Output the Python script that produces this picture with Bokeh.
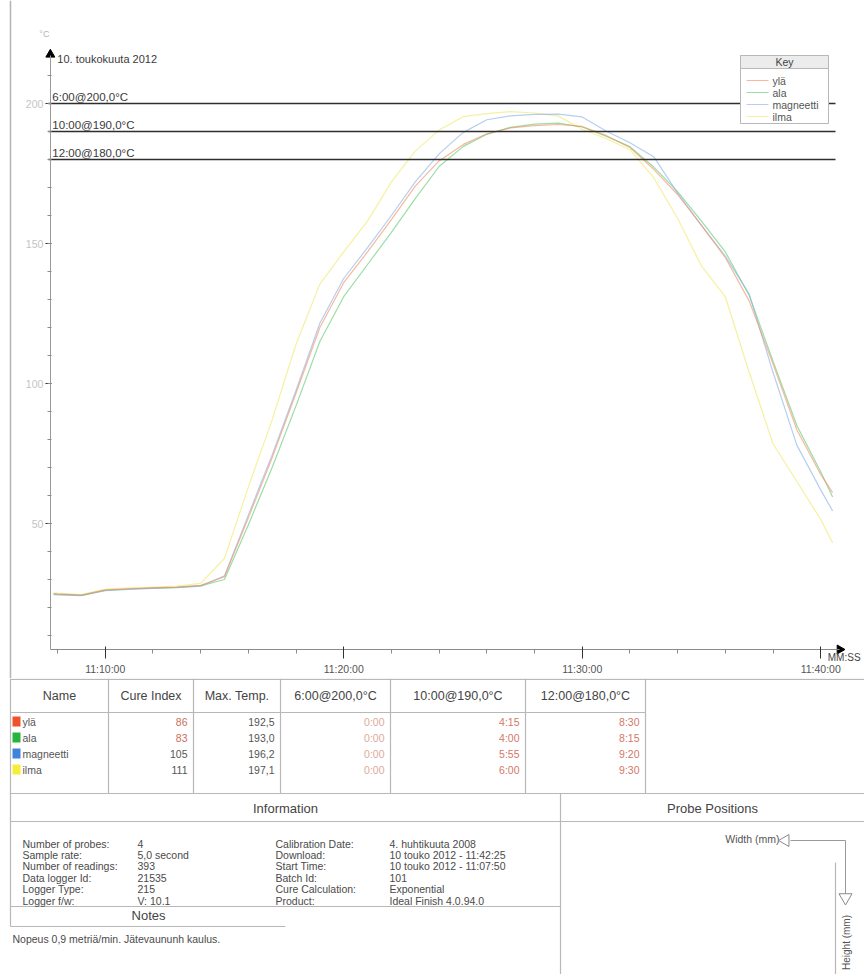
import math
import pandas as pd
from bokeh.plotting import figure
from bokeh.models import LinearAxis, DatetimeAxis, FixedTicker, DatetimeTickFormatter, Range1d
from bokeh.layouts import column
from bokeh.embed import file_html
from bokeh.resources import INLINE
from bokeh.core.properties import value

# ---------------- data ----------------
DATE = "2012-05-10"
chart_date_label = "10. toukokuuta 2012"

times = ["11:07:50", "11:08:00", "11:09:00", "11:10:00", "11:11:00", "11:12:00", "11:13:00",
         "11:14:00", "11:15:00", "11:16:00", "11:17:00", "11:18:00", "11:19:00", "11:20:00",
         "11:21:00", "11:22:00", "11:23:00", "11:24:00", "11:25:00", "11:26:00", "11:27:00",
         "11:28:00", "11:29:00", "11:30:00", "11:31:00", "11:32:00", "11:33:00", "11:34:00",
         "11:35:00", "11:36:00", "11:37:00", "11:38:00", "11:39:00", "11:40:00", "11:40:30"]

yla = [25.0, 24.9, 24.4, 26.3, 26.7, 27.0, 27.3, 27.9, 31.0, 52.0, 73.5, 96.5, 120.0, 136.0,
       147.0, 158.5, 170.5, 179.5, 185.3, 189.2, 191.3, 192.1, 192.5, 191.8, 188.6, 184.3,
       176.5, 167.5, 156.5, 145.0, 129.5, 107.0, 83.5, 67.5, 61.0]
ala = [24.8, 24.7, 24.3, 26.1, 26.6, 26.9, 27.2, 27.7, 30.0, 49.5, 70.0, 92.0, 115.0, 131.0,
       142.5, 154.0, 166.0, 177.5, 184.6, 189.0, 191.5, 192.6, 193.0, 191.6, 188.3, 184.6,
       177.3, 168.5, 158.0, 147.0, 131.5, 108.0, 85.0, 68.5, 59.5]
magneetti = [24.6, 24.5, 24.2, 26.0, 26.5, 26.8, 27.1, 27.6, 31.3, 53.0, 74.5, 97.5, 121.5, 137.5,
             148.5, 160.0, 172.0, 182.0, 189.6, 194.2, 195.6, 196.1, 196.2, 195.2, 190.2, 186.0,
             181.0, 168.0, 156.5, 145.5, 132.0, 104.0, 78.0, 62.0, 54.5]
ilma = [25.2, 25.1, 24.6, 26.6, 27.0, 27.3, 27.6, 28.6, 37.5, 63.0, 87.0, 114.0, 135.5, 147.0,
        158.0, 172.0, 183.0, 190.5, 195.3, 196.4, 197.1, 196.6, 195.5, 190.8, 187.5, 183.5,
        173.5, 159.0, 142.0, 131.0, 104.0, 78.5, 65.0, 51.5, 43.0]

probe_names = ["ylä", "ala", "magneetti", "ilma"]
probe_colors = ["#f0522e", "#27b43c", "#3f84dc", "#f4ee3a"]
line_colors = ["#f08a5c", "#58c76a", "#86aee8", "#eee860"]

threshold_times = ["6:00", "10:00", "12:00"]
threshold_temps = [200.0, 190.0, 180.0]

cure_index = [86, 83, 105, 111]
max_temp = [192.5, 193.0, 196.2, 197.1]
time_above_200 = ["0:00", "0:00", "0:00", "0:00"]
time_above_190 = ["4:15", "4:00", "5:55", "6:00"]
time_above_180 = ["8:30", "8:15", "9:20", "9:30"]

y_major_ticks = [50, 100, 150, 200]
x_tick_labels = ["11:10:00", "11:20:00", "11:30:00", "11:40:00"]
x_minor_labels = ["11:08:00", "11:12:00", "11:14:00", "11:16:00", "11:18:00", "11:22:00",
                  "11:24:00", "11:26:00", "11:28:00", "11:32:00", "11:34:00", "11:36:00",
                  "11:38:00"]

info_left_labels = ["Number of probes:", "Sample rate:", "Number of readings:",
                    "Data logger Id:", "Logger Type:", "Logger f/w:"]
info_left_values = ["4", "5,0 second", "393", "21535", "215", "V: 10.1"]
info_right_labels = ["Calibration Date:", "Download:", "Start Time:", "Batch Id:",
                     "Cure Calculation:", "Product:"]
info_right_values = ["4. huhtikuuta 2008", "10 touko 2012 - 11:42:25", "10 touko 2012 - 11:07:50",
                     "101", "Exponential", "Ideal Finish 4.0.94.0"]
notes_text = "Nopeus 0,9 metriä/min. Jätevaununh kaulus."

# ---------------- helpers ----------------
FONT = value("Liberation Sans")
W = 864
H_TOP = 678
H_BOT = 296


def ms(hms):
    return pd.Timestamp(f"{DATE} {hms}").value / 1e6


T1110 = ms("11:10:00")
PX_MIN = 23.85
PX_DEG = 2.8


def sx(X):  # page X -> chart data x
    return T1110 + (X - 104.7) / PX_MIN * 60000.0


def sy(Y):  # page Y -> chart data y
    return (663.0 - Y) / PX_DEG


def fmt_temp(t):
    return f"{t:.1f}".replace(".", ",")


# ---------------- chart ----------------
p = figure(width=W, height=H_TOP, x_range=Range1d(sx(0), sx(W)), y_range=Range1d(sy(H_TOP), sy(0)),
           x_axis_type=None, y_axis_type=None, toolbar_location=None, output_backend="svg",
           min_border=0, min_border_left=0, min_border_right=0, min_border_top=0, min_border_bottom=0)
p.outline_line_color = None
p.background_fill_color = "white"
p.border_fill_color = "white"

AX_X0 = ms("11:07:42")
AX_X1 = ms("11:40:48")
AX_Y0 = 5
AX_Y1 = 217

yaxis = LinearAxis(fixed_location=AX_X0, bounds=(AX_Y0, AX_Y1),
                   ticker=FixedTicker(ticks=y_major_ticks, minor_ticks=list(range(10, 211, 10))))
yaxis.axis_line_color = "#9a9a9a"
yaxis.major_tick_line_color = "#333333"
yaxis.major_tick_out = 5
yaxis.major_tick_in = 1
yaxis.minor_tick_line_color = "#8a8a8a"
yaxis.minor_tick_out = 3
yaxis.minor_tick_in = 1
yaxis.major_label_text_color = "#c4c4c4"
yaxis.major_label_text_font = "Liberation Sans"
yaxis.major_label_text_font_size = "10.5px"
yaxis.major_label_standoff = 2
p.add_layout(yaxis, "left")

xaxis = DatetimeAxis(fixed_location=AX_Y0, bounds=(AX_X0, AX_X1),
                     ticker=FixedTicker(ticks=[ms(t) for t in x_tick_labels],
                                        minor_ticks=[ms(t) for t in x_minor_labels]),
                     formatter=DatetimeTickFormatter(seconds="%H:%M:%S", minsec="%H:%M:%S",
                                                     minutes="%H:%M:%S", hourmin="%H:%M:%S",
                                                     hours="%H:%M:%S"))
xaxis.axis_line_color = "#8a8a8a"
xaxis.major_tick_line_color = "#333333"
xaxis.major_tick_out = 9
xaxis.major_tick_in = 3
xaxis.minor_tick_line_color = "#8a8a8a"
xaxis.minor_tick_out = 4
xaxis.minor_tick_in = 0
xaxis.major_label_text_color = "#555555"
xaxis.major_label_text_font = "Liberation Sans"
xaxis.major_label_text_font_size = "10.5px"
xaxis.major_label_standoff = 4
p.add_layout(xaxis, "below")

# page border of chart panel
p.segment(x0=[sx(10)], y0=[sy(0)], x1=[sx(10)], y1=[sy(H_TOP)], line_color="#b4b4b4", line_width=1.5)

# arrows on axes
p.scatter(x=[AX_X0], y=[AX_Y1 + 0.5], marker="triangle", size=9, fill_color="black", line_color="black")
p.scatter(x=[AX_X1], y=[AX_Y0], marker="triangle", size=9, angle=-math.pi / 2,
          fill_color="black", line_color="black")

# series
xs = [ms(t) for t in times]
series = [yla, ala, magneetti, ilma]
for idx in [3, 1, 2, 0]:
    p.line(x=xs, y=series[idx], line_color=line_colors[idx], line_width=1.2, line_alpha=0.6)

# threshold lines
line_x0 = AX_X0 - 5000
line_x1 = sx(835)
p.segment(x0=[line_x0] * 3, y0=threshold_temps, x1=[line_x1] * 3, y1=threshold_temps,
          line_color="#2e2e2e", line_width=1.6)
threshold_labels = [f"{tm}@{fmt_temp(tp)}°C" for tm, tp in zip(threshold_times, threshold_temps)]
p.text(x=[AX_X0] * 3, y=threshold_temps, text=threshold_labels, x_offset=2, y_offset=-1,
       text_baseline="bottom", text_align="left", text_font=FONT, text_font_size="11.5px",
       text_color="#3a3a3a")

# labels
p.text(x=[AX_X0], y=[sy(58)], text=[chart_date_label], x_offset=7, text_baseline="middle",
       text_font=FONT, text_font_size="11px", text_color="#3a3a3a")
p.text(x=[AX_X0], y=[sy(33)], text=["°C"], x_offset=-6, text_align="center", text_baseline="middle",
       text_font=FONT, text_font_size="9px", text_color="#b5b5b5")
p.text(x=[AX_X1], y=[AX_Y0], text=["MM:SS"], x_offset=-12, y_offset=8, text_align="left",
       text_baseline="middle", text_font=FONT, text_font_size="10px", text_color="#444444")

# key box
p.quad(left=[sx(740)], right=[sx(828)], top=[sy(55)], bottom=[sy(123)], fill_color="white",
       line_color="#b8b8b8", line_width=1)
p.quad(left=[sx(740)], right=[sx(828)], top=[sy(55)], bottom=[sy(68)], fill_color="#ececec",
       line_color="#b8b8b8", line_width=1)
p.text(x=[sx(784)], y=[sy(61.5)], text=["Key"], text_align="center", text_baseline="middle",
       text_font=FONT, text_font_size="10.5px", text_color="#444444")
key_y = [sy(80 + 12 * i) for i in range(len(probe_names))]
p.segment(x0=[sx(746)] * 4, y0=key_y, x1=[sx(768)] * 4, y1=key_y, line_color=line_colors,
          line_width=1.2, line_alpha=0.6)
p.text(x=[sx(772)] * 4, y=key_y, text=probe_names, text_baseline="middle", text_align="left",
       text_font=FONT, text_font_size="10.5px", text_color="#555555")

# ---------------- table / info panel ----------------
q = figure(width=W, height=H_BOT, x_range=Range1d(0, W), y_range=Range1d(H_TOP + H_BOT, H_TOP),
           x_axis_type=None, y_axis_type=None, toolbar_location=None, output_backend="svg",
           min_border=0, min_border_left=0, min_border_right=0, min_border_top=0, min_border_bottom=0)
q.outline_line_color = None
q.background_fill_color = "white"
q.border_fill_color = "white"

GRID = "#b8b8b8"
col_edges = [10, 108, 193, 280, 390, 525, 645]

# horizontal rules
hx0 = [10, 10, 10, 10, 10, 10]
hx1 = [W, 645, W, W, 560, 285]
hy = [678.8, 712, 793, 821, 906, 926]
q.segment(x0=hx0, y0=hy, x1=hx1, y1=hy, line_color=GRID, line_width=1.2)
# vertical rules
vx = col_edges + [560, 835]
vy0 = [678] * len(col_edges) + [793, 862]
vy1 = [926] + [793] * (len(col_edges) - 1) + [974, 974]
q.segment(x0=vx, y0=vy0, x1=vx, y1=vy1, line_color=GRID, line_width=1.2)

headers = ["Name", "Cure Index", "Max. Temp."] + threshold_labels
hcx = [(a + b) / 2 for a, b in zip(col_edges[:-1], col_edges[1:])]
q.text(x=hcx, y=[695] * len(headers), text=headers, text_align="center", text_baseline="middle",
       text_font=FONT, text_font_size="12.5px", text_color="#444444")

row_y = [721, 737, 753, 769]
q.quad(left=[12] * 4, right=[20] * 4, top=[y - 5 for y in row_y], bottom=[y + 5 for y in row_y],
       fill_color=probe_colors, line_color=None)
q.text(x=[22] * 4, y=row_y, text=probe_names, text_baseline="middle", text_font=FONT,
       text_font_size="10.5px", text_color="#555555")
ci_colors = ["#c8705a" if c < 100 else "#555555" for c in cure_index]
q.text(x=[col_edges[2] - 6] * 4, y=row_y, text=[str(c) for c in cure_index], text_align="right",
       text_baseline="middle", text_font=FONT, text_font_size="10.5px", text_color=ci_colors)
q.text(x=[col_edges[3] - 6] * 4, y=row_y, text=[fmt_temp(m) for m in max_temp], text_align="right",
       text_baseline="middle", text_font=FONT, text_font_size="10.5px", text_color="#555555")
for ci, vals, col in [(4, time_above_200, "#e0a89c"), (5, time_above_190, "#d27868"),
                      (6, time_above_180, "#d27868")]:
    q.text(x=[col_edges[ci] - 6] * 4, y=row_y, text=vals, text_align="right", text_baseline="middle",
           text_font=FONT, text_font_size="10.5px", text_color=col)

# information section
q.text(x=[285, 712], y=[808, 808], text=["Information", "Probe Positions"], text_align="center",
       text_baseline="middle", text_font=FONT, text_font_size="13px", text_color="#444444")
info_y = [843 + 11.4 * i for i in range(len(info_left_labels))]
for xpos, vals in [(22, info_left_labels), (137, info_left_values), (275, info_right_labels),
                   (389, info_right_values)]:
    q.text(x=[xpos] * len(vals), y=info_y, text=vals, text_baseline="middle", text_font=FONT,
           text_font_size="10.5px", text_color="#4a4a4a")
q.text(x=[148], y=[915], text=["Notes"], text_align="center", text_baseline="middle", text_font=FONT,
       text_font_size="13px", text_color="#444444")
q.text(x=[12], y=[938], text=[notes_text], text_baseline="middle", text_font=FONT,
       text_font_size="10.5px", text_color="#4a4a4a")

# probe positions diagram
q.text(x=[779], y=[838], text=["Width (mm)"], text_align="right", text_baseline="middle", text_font=FONT,
       text_font_size="10.5px", text_color="#555555")
q.segment(x0=[790, 845], y0=[840, 840], x1=[845, 845], y1=[840, 893], line_color="#9a9a9a", line_width=1)
q.scatter(x=[785], y=[840], marker="triangle", size=12, angle=math.pi / 2, fill_color="white",
          line_color="#8a8a8a")
q.scatter(x=[845], y=[897], marker="triangle", size=13, angle=math.pi, fill_color="white",
          line_color="#8a8a8a")
q.text(x=[846], y=[942], text=["Height (mm)"], angle=math.pi / 2, text_align="center",
       text_baseline="middle", text_font=FONT, text_font_size="10px", text_color="#555555")

layout = column(p, q, spacing=0)
open("out.html", "w").write(file_html(layout, INLINE))
